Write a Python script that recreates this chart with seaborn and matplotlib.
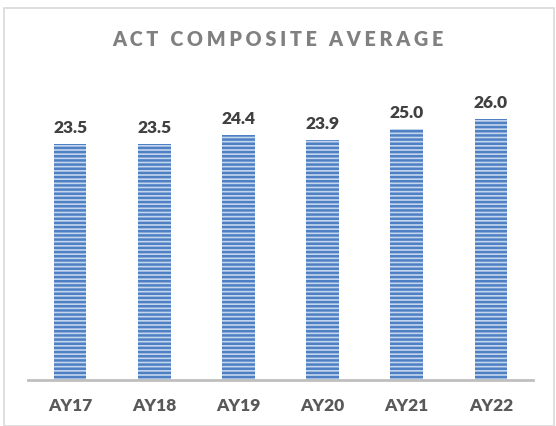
import matplotlib
matplotlib.use("Agg")
import matplotlib.pyplot as plt
import seaborn as sns
import pandas as pd
from matplotlib.patches import Rectangle

# data
years = ["AY17", "AY18", "AY19", "AY20", "AY21", "AY22"]
act_avg = [23.5, 23.5, 24.4, 23.9, 25.0, 26.0]

df = pd.DataFrame({"year": years, "avg": act_avg})

sns.set_style("white")
plt.rcParams["font.family"] = ["Lato", "DejaVu Sans"]
plt.rcParams["hatch.linewidth"] = 1.8

fig = plt.figure(figsize=(5.56, 4.26), dpi=100)
ax = fig.add_axes([28 / 556, 1 - 380 / 426, 505 / 556, 301 / 426])

sns.barplot(data=df, x="year", y="avg", color="#c4d6ee", width=0.39,
            saturation=1, ax=ax)
for p in ax.patches:
    p.set_hatch("----")
    p.set_edgecolor("#4f80c4")
    p.set_linewidth(0)

ax.set_ylim(0, 30)
ax.set_xlim(-0.5, 5.5)
ax.set_xlabel("")
ax.set_ylabel("")
ax.set_yticks([])
for s in ["top", "left", "right"]:
    ax.spines[s].set_visible(False)
ax.spines["bottom"].set_color("#bfbfbf")
ax.spines["bottom"].set_linewidth(2)
ax.tick_params(axis="x", length=0, pad=13)
for lbl in ax.get_xticklabels():
    lbl.set_fontsize(12.5)
    lbl.set_fontweight("heavy")
    lbl.set_color("#595959")

for i, v in enumerate(act_avg):
    ax.annotate(f"{v:.1f}", (i, v), xytext=(0, 6), textcoords="offset points",
                ha="center", va="bottom", fontsize=12.5, fontweight="heavy",
                color="#404040")

fig.text(0.5, 1 - 40 / 426, "\u2009\u200a".join("ACT COMPOSITE AVERAGE"),
         ha="center", va="center", fontsize=14.2, fontweight="heavy",
         color="#808080", family=["Lato", "DejaVu Sans"])

fig.patches.append(Rectangle((4 / 556, 0.0), 550 / 556, 1 - 8 / 426,
                             transform=fig.transFigure, fill=False,
                             edgecolor="#d9d9d9", linewidth=1.2))

fig.savefig("out.png", dpi=100)
